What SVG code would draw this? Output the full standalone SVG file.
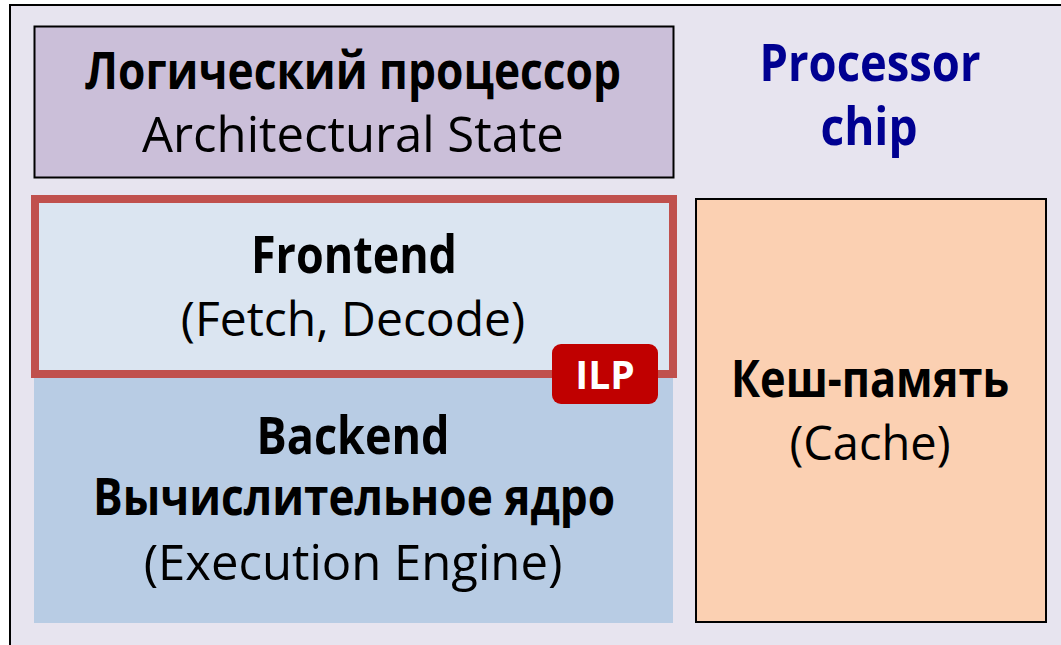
<svg xmlns="http://www.w3.org/2000/svg" width="1061" height="645" viewBox="0 0 1061 645">
<style>
.t{font-family:"Open Sans","Noto Sans",sans-serif;font-size:49px;text-anchor:middle;fill:#000}
.b{font-weight:bold;font-size:52px}
.blue{fill:#000091}
</style>
<rect x="10" y="5" width="1060" height="650" fill="#e7e4ef" stroke="#000" stroke-width="2"/>
<g id="chip-label">
<text class="t b blue" x="870" y="81" textLength="221" lengthAdjust="spacingAndGlyphs">Processor</text>
<text class="t b blue" x="869" y="145" textLength="97" lengthAdjust="spacingAndGlyphs">chip</text>
</g>
<g id="logical">
<rect x="34.5" y="26.5" width="639" height="151" fill="#cbbfd9" stroke="#000" stroke-width="2"/>
<text class="t b" x="353" y="89" textLength="536" lengthAdjust="spacingAndGlyphs">Логический процессор</text>
<text class="t" x="353" y="152">Architectural State</text>
</g>
<g id="backend">
<rect x="34" y="374" width="639" height="249" fill="#b8cce4"/>
<text class="t b" x="353" y="454" textLength="193" lengthAdjust="spacingAndGlyphs">Backend</text>
<text class="t b" x="354" y="515" textLength="522" lengthAdjust="spacingAndGlyphs">Вычислительное ядро</text>
<text class="t" x="353" y="580">(Execution Engine)</text>
</g>
<g id="frontend">
<rect x="35" y="199" width="638" height="175" fill="#dbe5f1" stroke="#c0504d" stroke-width="8"/>
<text class="t b" x="354" y="273" textLength="206" lengthAdjust="spacingAndGlyphs">Frontend</text>
<text class="t" x="353" y="336" style="font-size:48px">(Fetch, Decode)</text>
</g>
<g id="ilp">
<rect x="552" y="344" width="106" height="60" rx="9" fill="#c00000"/>
<text class="t" x="605" y="389" style="fill:#fff;font-size:39px;font-weight:bold">ILP</text>
</g>
<g id="cache">
<rect x="696" y="199" width="350" height="423" fill="#fbd0b2" stroke="#000" stroke-width="2"/>
<text class="t b" x="870" y="397" textLength="278" lengthAdjust="spacingAndGlyphs">Кеш-память</text>
<text class="t" x="870" y="460" style="font-size:47px">(Cache)</text>
</g>
<g id="connectors"/>
</svg>
